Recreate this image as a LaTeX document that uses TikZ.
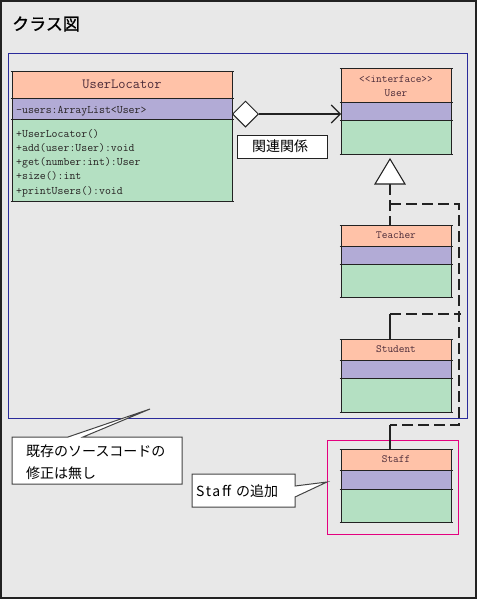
\documentclass[tikz,border=0pt]{standalone}
\usepackage{fontspec}
\newfontfamily\jp{Noto Sans CJK JP}
\usetikzlibrary{shapes.geometric,arrows.meta}
\definecolor{bg}{HTML}{E8E8E8}
\definecolor{cname}{HTML}{FFC2A8}
\definecolor{cattr}{HTML}{B2ABD6}
\definecolor{cops}{HTML}{B4E0C2}
\definecolor{blueframe}{HTML}{2B2B9B}
\definecolor{magframe}{HTML}{E4007F}
\definecolor{nametext}{HTML}{4A2A38}
\definecolor{membertext}{HTML}{262222}
\definecolor{edgecol}{HTML}{222222}
\definecolor{calloutedge}{HTML}{444444}
\newcommand\umlclass[7]{%
  \node[part,fill=cname,minimum width=#3pt,minimum height=#5pt] (#1-n) at (#2,#4) {};
  \node[part,fill=cattr,minimum width=#3pt,minimum height=#6pt] (#1-a) at (#1-n.south west) {};
  \node[part,fill=cops,minimum width=#3pt,minimum height=#7pt] (#1-o) at (#1-a.south west) {};
  \draw[boxline] (#1-n.north west) -- (#1-o.south west);
  \draw[boxline] (#1-n.north east) -- (#1-o.south east);
  \draw[boxline] ([xshift=-1.5pt]#1-n.north west) -- ([xshift=1.5pt]#1-n.north east);
  \draw[boxline] ([xshift=-1.5pt]#1-n.south west) -- ([xshift=1.5pt]#1-n.south east);
  \draw[boxline] ([xshift=-1.5pt]#1-a.south west) -- ([xshift=1.5pt]#1-a.south east);
  \draw[boxline] ([xshift=-1.5pt]#1-o.south west) -- ([xshift=1.5pt]#1-o.south east);
}
\begin{document}
\begin{tikzpicture}[x=1pt,y=-1pt,
  part/.style={inner sep=0pt,outer sep=0pt,anchor=north west},
  boxline/.style={draw=edgecol,line width=1pt},
  nametxt/.style={text=nametext,font=\ttfamily\fontsize{11}{13}\selectfont,inner sep=0pt},
  membertxt/.style={text=membertext,font=\ttfamily\fontsize{11.5}{13}\selectfont,inner sep=0pt,anchor=base west},
  jptxt/.style={font=\jp\fontsize{14}{16}\selectfont,inner sep=0pt},
  dashline/.style={draw=edgecol,line width=1.2pt,dash pattern=on 11pt off 5pt},
  solidline/.style={draw=edgecol,line width=1.2pt},
  callout/.style={draw=calloutedge,fill=white,line width=1pt}]
\useasboundingbox (0,0) rectangle (478,600);
% outer frame
\draw[draw=edgecol,fill=bg,line width=1.2pt] (1,1) rectangle (476,598);
\node[jptxt,anchor=west,font=\jp\fontsize{17}{19}\selectfont\addfontfeature{FakeBold=1}] (title) at (12,24) {クラス図};
% frames
\draw[blueframe,line width=1pt] (8,53) rectangle (467,418);
\draw[magframe,line width=1pt] (327,440) rectangle (458,534);
% classes
\umlclass{ul}{12}{220}{71}{27}{21}{82}
\umlclass{user}{341}{110}{68}{34}{18}{34}
\umlclass{teacher}{341}{110}{225}{21}{18}{33}
\umlclass{student}{341}{110}{339}{21}{18}{34}
\umlclass{staff}{341}{110}{449}{21}{19}{33}
% class texts
\node[nametxt,font=\ttfamily\fontsize{14}{16}\selectfont] (ulname) at (ul-n) {UserLocator};
\node[membertxt] (ulattr) at (16,113) {-users:ArrayList<User>};
\node[membertxt] (op1) at (16,137) {+UserLocator()};
\node[membertxt] (op2) at (16,151.3) {+add(user:User):void};
\node[membertxt] (op3) at (16,165.6) {+get(number:int):User};
\node[membertxt] (op4) at (16,179.9) {+size():int};
\node[membertxt] (op5) at (16,194.2) {+printUsers():void};
\node[nametxt] (stereo) at (396,79) {<\kern0pt<interface>\kern0pt>};
\node[nametxt] (username) at (396,93) {User};
\node[nametxt] (teachername) at (teacher-n) {Teacher};
\node[nametxt] (studentname) at (student-n) {Student};
\node[nametxt] (staffname) at (staff-n) {Staff};
% association
\node[diamond,draw=edgecol,fill=white,line width=1pt,minimum width=26pt,minimum height=26pt,inner sep=0pt,anchor=west] (dia) at (232,114) {};
\coordinate (userin) at (341,114);
\draw[solidline,-{Straight Barb[length=9pt,width=18pt,line width=1.1pt]}] (dia.east) -- (userin);
\node[draw=edgecol,fill=white,line width=1pt,minimum width=90pt,minimum height=23pt,inner sep=0pt] (assoclabel) at (282,146.5) {};
\node[jptxt] (assoctext) at (280,146.5) {関連関係};
% generalization
\coordinate (triapex) at (390,159);
\coordinate (tribase) at (390,184);
\coordinate (jT) at (390,204);
\coordinate (cTop) at (459,204);
\coordinate (cBot) at (459,425);
\coordinate (jS) at (390,314);
\coordinate (jSend) at (461,314);
\coordinate (jF) at (390,425);
\draw[dashline] (tribase) -- (teacher-n.north -| tribase);
\draw[dashline] (jT) -- (cTop) -- (cBot) -- (jF);
\draw[dashline] (jS) -- (jSend);
\draw[solidline] (jS) -- (student-n.north -| jS);
\draw[solidline] (jF) -- (staff-n.north -| jF);
\draw[draw=edgecol,fill=white,line width=1.1pt] (triapex) -- (405,184) -- (375,184) -- cycle;
% callouts
\draw[callout] (12,437) -- (68,437) -- (150,409) -- (83,437) -- (182,437) -- (182,484) -- (12,484) -- cycle;
\node[jptxt,anchor=west] (note1a) at (26,451) {既存のソースコードの};
\node[jptxt,anchor=west] (note1b) at (26,473) {修正は無し};
\draw[callout] (192,474) -- (295,474) -- (295,486) -- (327,482) -- (295,497) -- (295,507) -- (192,507) -- cycle;
\node[jptxt,anchor=west] (note2) at (196,491) {{\addfontfeature{LetterSpace=12}Staff}\hspace{5pt}の追加};
\end{tikzpicture}
\end{document}
